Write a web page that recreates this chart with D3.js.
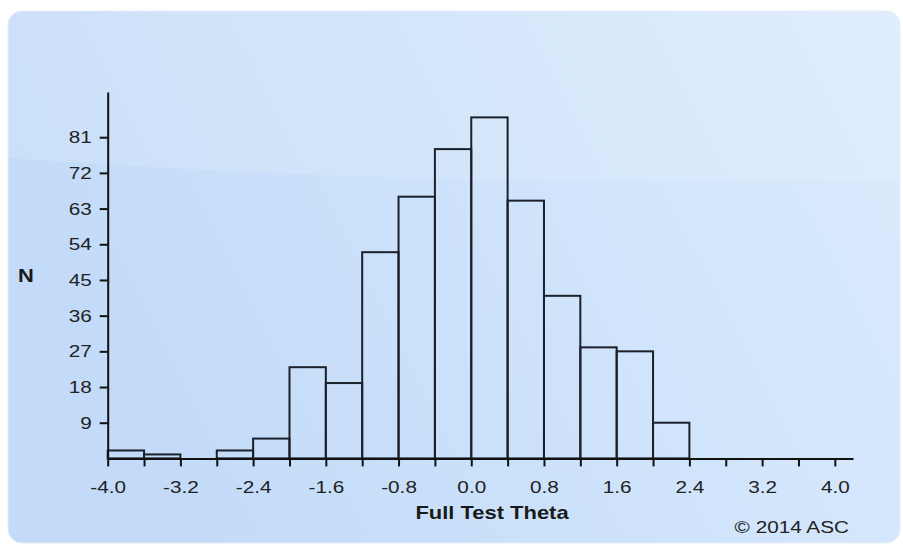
<!DOCTYPE html>
<html>
<head>
<meta charset="utf-8">
<script src="https://cdn.jsdelivr.net/npm/d3@7"></script>
<style>
  body { margin: 0; background: #fff; }
  svg { display: block; font-family: "Liberation Sans", Arial, sans-serif; }
</style>
</head>
<body>
<div id="chart"></div>
<script>
// Histogram data: bin start (width 0.4) and count
const binStarts = [-4.0, -3.6, -3.2, -2.8, -2.4, -2.0, -1.6, -1.2, -0.8, -0.4, 0.0, 0.4, 0.8, 1.2, 1.6, 2.0];
const counts    = [2, 1, 0, 2, 5, 23, 19, 52, 66, 78, 86, 65, 41, 28, 27, 9];
const binWidth = 0.4;
const xTicks = [-4.0, -3.6, -3.2, -2.8, -2.4, -2.0, -1.6, -1.2, -0.8, -0.4, 0.0, 0.4, 0.8, 1.2, 1.6, 2.0, 2.4, 2.8, 3.2, 3.6, 4.0];
const xLabels = [-4.0, -3.2, -2.4, -1.6, -0.8, 0.0, 0.8, 1.6, 2.4, 3.2, 4.0];
const yTicks = [9, 18, 27, 36, 45, 54, 63, 72, 81];

const W = 903, H = 547;
const stretch = "scale(1.22,1)"; // text in the picture is a bit wide
const svg = d3.select("#chart").append("svg").attr("width", W).attr("height", H);

const defs = svg.append("defs");
const bg = defs.append("linearGradient").attr("id", "bg").attr("x1", 0).attr("x2", 1).attr("y1", 0.3).attr("y2", 0);
bg.append("stop").attr("offset", 0).attr("stop-color", "#c3dbf8");
bg.append("stop").attr("offset", 0.55).attr("stop-color", "#d0e4fb");
bg.append("stop").attr("offset", 1).attr("stop-color", "#dcebfd");

// panel
svg.append("rect")
  .attr("x", 8).attr("y", 11).attr("width", 892).attr("height", 532)
  .attr("rx", 14).attr("fill", "url(#bg)")
  .attr("stroke", "#e4edf8").attr("stroke-width", 1);

// gloss on the upper part
svg.append("path")
  .attr("d", "M22,11 H886 Q900,11 900,25 V178 Q500,192 8,158 V25 Q8,11 22,11 Z")
  .attr("fill", "#ffffff").attr("opacity", 0.13);

const x = d3.scaleLinear().domain([-4, 4.2]).range([107.7, 853]);
const y = d3.scaleLinear().domain([0, 92.4]).range([458.4, 92]);

const bins = binStarts.map((s, i) => ({ x0: s, x1: s + binWidth, n: counts[i] }));

svg.append("g")
  .selectAll("rect")
  .data(bins.filter(d => d.n > 0))
  .join("rect")
  .attr("x", d => x(d.x0))
  .attr("y", d => y(d.n))
  .attr("width", d => x(d.x1) - x(d.x0))
  .attr("height", d => y(0) - y(d.n))
  .attr("fill", "none")
  .attr("stroke", "#1b202b")
  .attr("stroke-width", 2);

// x axis
const xAxis = svg.append("g")
  .attr("transform", `translate(0,${y(0)})`)
  .call(d3.axisBottom(x)
    .tickValues(xTicks)
    .tickSize(8)
    .tickSizeOuter(0)
    .tickPadding(15)
    .tickFormat(d => xLabels.some(v => Math.abs(v - d) < 1e-9) ? d.toFixed(1) : ""));
xAxis.selectAll(".tick text").attr("transform", stretch);

// y axis
const yAxis = svg.append("g")
  .attr("transform", `translate(${x(-4)},0)`)
  .call(d3.axisLeft(y)
    .tickValues(yTicks)
    .tickSize(8)
    .tickSizeOuter(0));
yAxis.selectAll(".tick text").attr("x", 0).attr("transform", `translate(-16,0) ${stretch}`);

[xAxis, yAxis].forEach(g => {
  g.select(".domain").attr("stroke", "#111").attr("stroke-width", 2);
  g.selectAll(".tick line").attr("stroke", "#111").attr("stroke-width", 2);
  g.selectAll(".tick text").attr("fill", "#222").style("font-size", "17px");
});

svg.append("text")
  .attr("transform", `translate(492,519) ${stretch}`)
  .attr("text-anchor", "middle")
  .style("font-size", "18px").style("font-weight", "bold")
  .attr("fill", "#1a1a1a")
  .text("Full Test Theta");

svg.append("text")
  .attr("transform", `translate(26,282) ${stretch}`)
  .attr("text-anchor", "middle")
  .style("font-size", "18px").style("font-weight", "bold")
  .attr("fill", "#1a1a1a")
  .text("N");

svg.append("text")
  .attr("transform", `translate(849,533) ${stretch}`)
  .attr("text-anchor", "end")
  .style("font-size", "17px")
  .attr("fill", "#222")
  .text("© 2014 ASC");
</script>
</body>
</html>
